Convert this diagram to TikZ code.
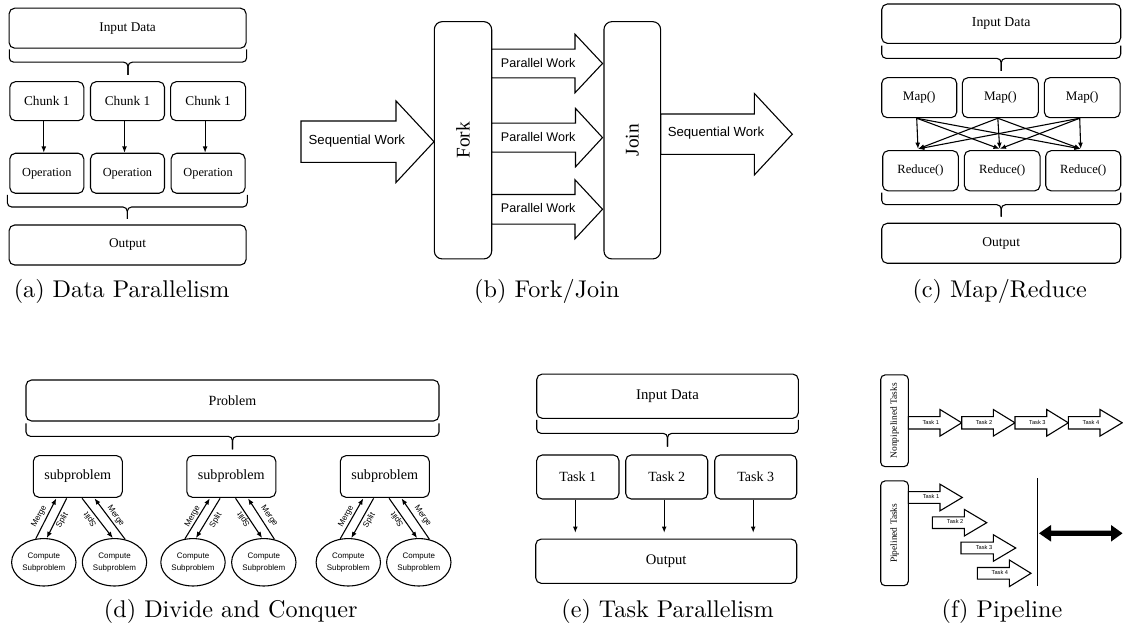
\documentclass[tikz,border=0pt]{standalone}
\usepackage{fontspec}
\newfontfamily\tms{Liberation Serif}
\newfontfamily\arl{Liberation Sans}
\usetikzlibrary{shapes.geometric,arrows.meta,calc}

% one drawing unit = one pixel of the layout grid
\newcommand\pxu{0.4135pt}

\tikzset{
  tm/.style={font=\tms\fontsize{#1}{#1}\selectfont},
  ar/.style={font=\arl\fontsize{#1}{#1}\selectfont},
  box/.style={draw, fill=white, rounded corners=2.3pt, line width=0.45pt, inner sep=0pt, align=center},
  sz/.style 2 args={minimum width={#1*\pxu}, minimum height={#2*\pxu}},
  arr/.style={line width=0.45pt, -{Latex[length=2.6pt,width=2pt]}},
  blk/.style={line width=0.45pt, fill=white, line join=miter},
  brc/.style={line width=0.45pt, rounded corners=1.8pt},
  ell/.style={draw, ellipse, line width=0.45pt, inner sep=0pt, align=center,
    minimum width={64.4*\pxu}, minimum height={47.4*\pxu},
    font=\arl\fontsize{3.3}{5.1}\selectfont},
  lab/.style={ar=3.4, inner sep=0pt},
  captext/.style={font=\fontsize{10}{12}\selectfont, inner sep=0pt},
}

% curly brace opening downwards: left x, right x, top y, tip y
\newcommand\Brace[4]{%
  \draw[brc] (#1,#3) |- ({(#1+#2)/2},{(#3+#4)/2}) -- ({(#1+#2)/2},#4);
  \draw[brc] (#2,#3) |- ({(#1+#2)/2},{(#3+#4)/2}) -- ({(#1+#2)/2},#4);}

% block arrow: name, tail x, head base x, tip x, centre y, shaft half, head half, text style, text
\newcommand\blockarrow[9]{%
  \draw[blk] (#2,{#5-#6}) -- (#3,{#5-#6}) -- (#3,{#5-#7}) -- (#4,#5)
    -- (#3,{#5+#7}) -- (#3,{#5+#6}) -- (#2,{#5+#6}) -- cycle;
  \node[#8, inner sep=0pt] (#1) at ({#2+0.42*(#4-#2)},{#5-0.8}) {#9};}

\begin{document}
\begin{tikzpicture}[x=0.4135pt, y=-0.4135pt]
\useasboundingbox (0,0) rectangle (1123,627);

% ---------------- (a) data parallelism ----------------
\node[box, sz={237}{40}, tm=5.5] (a-in) at (127.6,28.2) {Input Data};
\Brace{9.3}{246.7}{49.3}{75}
\node[box, sz={74}{39}, tm=5.5] (a-c1) at (46.8,101.2) {Chunk 1};
\node[box, sz={74}{39}, tm=5.5] (a-c2) at (127.5,101.2) {Chunk 1};
\node[box, sz={75}{39}, tm=5.5] (a-c3) at (208.1,101.2) {Chunk 1};
\node[box, sz={74}{40}, tm=5.1] (a-o1) at (46.8,173.3) {Operation};
\node[box, sz={74}{40}, tm=5.1] (a-o2) at (127.5,173.3) {Operation};
\node[box, sz={74}{40}, tm=5.1] (a-o3) at (208.1,173.3) {Operation};
\foreach \i in {1,2,3}
  \draw[arr] ($(a-c\i.south)+(-3,0)$) -- ($(a-o\i.north)+(-3,0)$);
\Brace{7.3}{247.3}{195}{219}
\node[box, sz={237}{40}, tm=5.5] (a-out) at (127.6,245) {Output};
\node[captext] (cap-a) at (121.7,291) {(a) Data Parallelism};

% ---------------- (b) fork / join ----------------
\node[box, rotate=90, sz={237.3}{57.4}, rounded corners=3.3pt, tm=8] (b-fork) at (463,140.3) {Fork};
\node[box, rotate=90, sz={237.3}{56.7}, rounded corners=3.3pt, tm=8] (b-join) at (632.3,140.3) {Join};
\blockarrow{b-seq1}{301}{396}{434}{141.7}{20.7}{40.8}{ar=5.45}{Sequential Work}
\blockarrow{b-par1}{491.7}{575}{602.5}{63.5}{14.4}{29.3}{ar=5.2}{Parallel Work}
\blockarrow{b-par2}{491.7}{575.5}{602.5}{137.6}{14.5}{29.2}{ar=5.2}{Parallel Work}
\blockarrow{b-par3}{491.7}{575}{602.5}{209.3}{14.8}{29.5}{ar=5.2}{Parallel Work}
\blockarrow{b-seq2}{660.7}{754.3}{792.3}{134.2}{20.2}{40.8}{ar=5.45}{Sequential Work}
\node[captext] (cap-b) at (546.8,291) {(b) Fork/Join};

% ---------------- (c) map / reduce ----------------
\node[box, sz={239}{39.3}, tm=5.7] (c-in) at (1001.2,23.7) {Input Data};
\Brace{881.7}{1120.7}{45.7}{71}
\node[box, sz={75}{40}, tm=5.4] (c-m1) at (919.2,97.7) {Map()};
\node[box, sz={76}{40}, tm=5.4] (c-m2) at (1000.3,97.7) {Map()};
\node[box, sz={75.7}{40}, tm=5.4] (c-m3) at (1082.2,97.7) {Map()};
\node[box, sz={75.6}{40.3}, tm=5.2] (c-r1) at (920.5,170.8) {Reduce()};
\node[box, sz={75.7}{40.3}, tm=5.2] (c-r2) at (1002.2,170.8) {Reduce()};
\node[box, sz={75}{40.3}, tm=5.2] (c-r3) at (1083.2,170.8) {Reduce()};
\foreach \i in {1,2,3}
  \foreach \j in {1,2,3}
    \draw[arr] ($(c-m\i.south)+(-2.5,0)$) -- ($(c-r\j.north)+(-2.5,-1.2)$);
\Brace{881.7}{1120.7}{192.7}{216.7}
\node[box, sz={239}{40}, tm=5.6] (c-out) at (1001.2,243.3) {Output};
\node[captext] (cap-c) at (999.7,291) {(c) Map/Reduce};

% ---------------- (d) divide and conquer ----------------
\node[box, sz={413}{41}, tm=5.8] (d-prob) at (232.5,400.5) {Problem};
\Brace{26}{439}{423.3}{449.3}
\node[box, sz={89}{41.6}, tm=5.85] (d-s1) at (77.8,476.5) {subproblem};
\node[box, sz={89}{41.6}, tm=5.85] (d-s2) at (231.3,476.5) {subproblem};
\node[box, sz={89}{41.6}, tm=5.85] (d-s3) at (384.8,476.5) {subproblem};
\node[ell] (d-e1) at (43.8,562.3) {Compute\\Subproblem};
\node[ell] (d-e2) at (114.5,562.3) {Compute\\Subproblem};
\node[ell] (d-e3) at (193,562.3) {Compute\\Subproblem};
\node[ell] (d-e4) at (263.8,562.3) {Compute\\Subproblem};
\node[ell] (d-e5) at (348.3,562.3) {Compute\\Subproblem};
\node[ell] (d-e6) at (418.8,562.3) {Compute\\Subproblem};
\foreach \g [evaluate=\g as \L using int(2*\g-1), evaluate=\g as \R using int(2*\g)] in {1,2,3}{
  \draw[arr] (d-e\L.109) -- ($(d-s\g.south)+(-21.5,0.5)$);
  \draw[arr] ($(d-s\g.south)+(-11.2,0.5)$) -- (d-e\L.83);
  \draw[arr] ($(d-s\g.south)+(4.3,0.5)$) -- (d-e\R.94);
  \draw[arr] (d-e\R.65) -- ($(d-s\g.south)+(16.7,0.5)$);
  \path (d-s\g.south) ++(-38.5,18.7) node[lab, rotate=61] (d-ml\g) {Merge};
  \path (d-s\g.south) ++(-15.5,22.7) node[lab, rotate=59] (d-sl\g) {Split};
  \path (d-s\g.south) ++(12.5,21.7) node[lab, rotate=125] (d-sr\g) {Split};
  \path (d-s\g.south) ++(37.8,18.2) node[lab, rotate=-55] (d-mr\g) {Merge};
}
\node[captext] (cap-d) at (230.8,611.5) {(d) Divide and Conquer};

% ---------------- (e) task parallelism ----------------
\node[box, sz={261.6}{44.3}, tm=6.1] (e-in) at (667.5,396.2) {Input Data};
\Brace{536.7}{798.3}{420}{446.7}
\node[box, sz={82.3}{44}, tm=5.8] (e-t1) at (577.8,477) {Task 1};
\node[box, sz={82}{44}, tm=5.8] (e-t2) at (666.7,477) {Task 2};
\node[box, sz={82}{44}, tm=5.8] (e-t3) at (755.7,477) {Task 3};
\node[box, sz={261}{44.3}, tm=6.05] (e-out) at (666.2,561.2) {Output};
\foreach \i in {1,2,3}
  \draw[arr] ($(e-t\i.south)+(-2.5,0)$) -- ($(e-t\i.south |- e-out.north)+(-2.5,-5.7)$);
\node[captext] (cap-e) at (667.5,611.5) {(e) Task Parallelism};

% ---------------- (f) pipeline ----------------
\node[box, rotate=90, sz={91.7}{27.6}, rounded corners=1.8pt, tm=3.9] (f-np) at (894.5,420.8) {Nonpipelined Tasks};
\node[box, rotate=90, sz={104.7}{27.6}, rounded corners=1.8pt, tm=3.9] (f-pl) at (894.5,533.3) {Pipelined Tasks};
\blockarrow{f-n1}{908.3}{940}{961.7}{422.8}{6.2}{13.3}{ar=2.35}{Task 1}
\blockarrow{f-n2}{961.7}{993.3}{1015}{422.8}{6.2}{13.3}{ar=2.35}{Task 2}
\blockarrow{f-n3}{1015}{1046.7}{1068.3}{422.8}{6.2}{13.3}{ar=2.35}{Task 3}
\blockarrow{f-n4}{1068.3}{1100}{1122.2}{422.8}{6.2}{13.3}{ar=2.35}{Task 4}
\blockarrow{f-p1}{908.3}{940}{962.3}{497.5}{5.8}{13.3}{ar=2.35}{Task 1}
\blockarrow{f-p2}{932.3}{964.3}{986.7}{522.7}{5.8}{13.3}{ar=2.35}{Task 2}
\blockarrow{f-p3}{961}{993.3}{1015.7}{548}{5.8}{13.3}{ar=2.35}{Task 3}
\blockarrow{f-p4}{977.3}{1009.3}{1031}{573.3}{5.8}{13.3}{ar=2.35}{Task 4}
\draw[line width=0.5pt] (1037.3,478.3) -- (1037.3,585.7);
\fill (1039,533.3) -- (1051,525) -- (1051,530.6) -- (1111,530.6) -- (1111,525)
  -- (1122.5,533.3) -- (1111,541.6) -- (1111,536) -- (1051,536) -- (1051,541.6) -- cycle;
\node[captext] (cap-f) at (1002,611.5) {(f) Pipeline};
\end{tikzpicture}
\end{document}
